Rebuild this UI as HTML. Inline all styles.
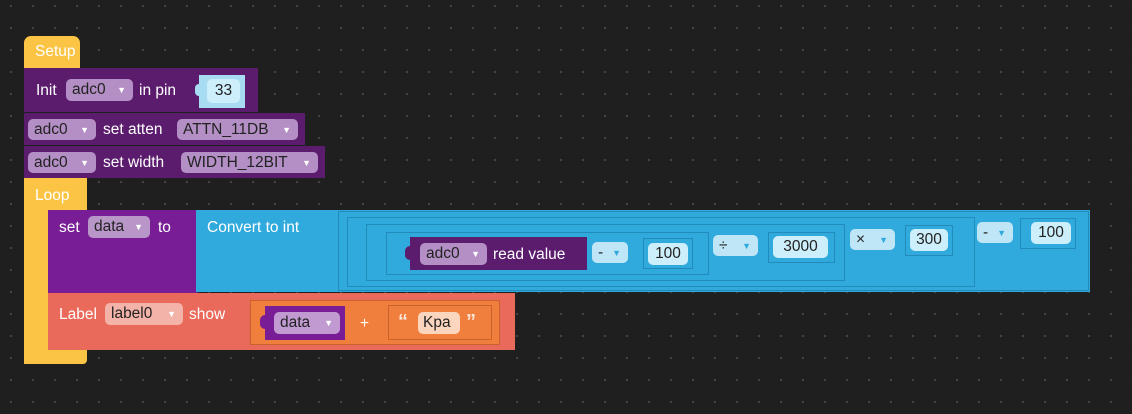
<!DOCTYPE html>
<html><head><meta charset="utf-8"><style>
html,body{margin:0;padding:0}
body{width:1132px;height:414px;overflow:hidden;background-color:#1f1f1f;
background-image:radial-gradient(circle,#474747 0.9px,transparent 1.3px);background-size:22px 22px;background-position:0px -5px;
font-family:"Liberation Sans",sans-serif;font-size:15.5px;position:relative}
.a{position:absolute;box-sizing:border-box}
.t{position:absolute;color:#fff;white-space:nowrap;line-height:18px}
.dd{position:absolute;box-sizing:border-box;border-radius:5px;color:#222;white-space:nowrap;display:flex;align-items:center;padding-left:6px}
.dd i{font-style:normal;font-size:9px;color:#fff;position:absolute;right:7px;top:50%;transform:translateY(-50%)}
.num{position:absolute;box-sizing:border-box;background:#cdeefb;border-radius:5px;color:#222;display:flex;align-items:center;justify-content:center}
</style></head><body>
<!-- Setup -->
<div class="a" style="left:24px;top:36px;width:56px;height:34px;background:#fbc444;border-radius:7px 7px 0 0"></div>
<div class="t" style="left:35px;top:43px">Setup</div>
<div class="a" style="left:24px;top:68px;width:234px;height:44px;background:#5b1c6d"></div>
<div class="t" style="left:36px;top:82px">Init</div>
<div class="dd" style="left:66px;top:79px;width:67px;height:22px;background:#b38fc5">adc0<i>▼</i></div>
<div class="t" style="left:139px;top:82px">in pin</div>
<div class="a" style="left:199px;top:75px;width:46px;height:33px;background:#a8dcf3"></div>
<div class="a" style="left:195px;top:84px;width:8px;height:12px;background:#a8dcf3;border-radius:4px"></div>
<div class="num" style="left:207px;top:79px;width:33px;height:24px">33</div>
<div class="a" style="left:24px;top:113px;width:281px;height:32px;background:#5b1c6d"></div>
<div class="dd" style="left:28px;top:119px;width:68px;height:21px;background:#b38fc5">adc0<i>▼</i></div>
<div class="t" style="left:103px;top:121px">set atten</div>
<div class="dd" style="left:177px;top:119px;width:121px;height:21px;background:#b38fc5">ATTN_11DB<i>▼</i></div>
<div class="a" style="left:24px;top:146px;width:301px;height:32px;background:#5b1c6d"></div>
<div class="dd" style="left:28px;top:152px;width:68px;height:21px;background:#b38fc5">adc0<i>▼</i></div>
<div class="t" style="left:103px;top:154px">set width</div>
<div class="dd" style="left:181px;top:152px;width:137px;height:21px;background:#b38fc5">WIDTH_12BIT<i>▼</i></div>
<!-- Loop -->
<div class="a" style="left:24px;top:178px;width:63px;height:34px;background:#fbc444"></div>
<div class="a" style="left:24px;top:178px;width:24px;height:186px;background:#fbc444"></div>
<div class="a" style="left:24px;top:348px;width:63px;height:16px;background:#fbc444;border-radius:0 0 4px 4px"></div>
<div class="t" style="left:35px;top:187px">Loop</div>
<!-- set -->
<div class="a" style="left:48px;top:210px;width:150px;height:83px;background:#781d95"></div>
<div class="t" style="left:59px;top:219px">set</div>
<div class="dd" style="left:88px;top:216px;width:62px;height:22px;background:#b996c8">data<i>▼</i></div>
<div class="t" style="left:158px;top:219px">to</div>
<div class="a" style="left:196px;top:210px;width:894px;height:82px;background:#30a9dd"></div>
<div class="t" style="left:207px;top:219px">Convert to int</div>
<div class="a" style="left:338px;top:211px;width:751px;height:80px;border:1px solid #238bbb"></div>
<div class="a" style="left:347px;top:217px;width:628px;height:70px;border:1px solid #238bbb"></div>
<div class="a" style="left:366px;top:224px;width:479px;height:57px;border:1px solid #238bbb"></div>
<div class="a" style="left:386px;top:232px;width:323px;height:43px;border:1px solid #238bbb"></div>
<div class="a" style="left:410px;top:237px;width:177px;height:33px;background:#5b1c6d"></div>
<div class="a" style="left:405px;top:246px;width:10px;height:14px;background:#5b1c6d;border-radius:5px"></div>
<div class="dd" style="left:420px;top:243px;width:67px;height:22px;background:#b38fc5">adc0<i>▼</i></div>
<div class="t" style="left:493px;top:246px">read value</div>
<div class="dd" style="left:592px;top:242px;width:36px;height:21px;background:#bfe6f7">-<i style="color:#30a9dd">▼</i></div>
<div class="a" style="left:643px;top:238px;width:50px;height:31px;border:1px solid #238bbb"></div>
<div class="num" style="left:648px;top:243px;width:40px;height:22px">100</div>
<div class="dd" style="left:713px;top:235px;width:45px;height:21px;background:#bfe6f7">÷<i style="color:#30a9dd">▼</i></div>
<div class="a" style="left:768px;top:232px;width:67px;height:31px;border:1px solid #238bbb"></div>
<div class="num" style="left:773px;top:236px;width:55px;height:22px">3000</div>
<div class="dd" style="left:850px;top:229px;width:45px;height:21px;background:#bfe6f7">×<i style="color:#30a9dd">▼</i></div>
<div class="a" style="left:905px;top:225px;width:48px;height:31px;border:1px solid #238bbb"></div>
<div class="num" style="left:910px;top:229px;width:38px;height:22px">300</div>
<div class="dd" style="left:977px;top:222px;width:36px;height:21px;background:#bfe6f7">-<i style="color:#30a9dd">▼</i></div>
<div class="a" style="left:1020px;top:218px;width:56px;height:31px;border:1px solid #238bbb"></div>
<div class="num" style="left:1031px;top:222px;width:40px;height:22px">100</div>
<!-- Label -->
<div class="a" style="left:48px;top:293px;width:467px;height:57px;background:#e9695a"></div>
<div class="t" style="left:59px;top:306px">Label</div>
<div class="dd" style="left:105px;top:303px;width:78px;height:22px;background:#f4b3a9">label0<i>▼</i></div>
<div class="t" style="left:189px;top:306px">show</div>
<div class="a" style="left:250px;top:300px;width:250px;height:45px;background:#f07e3c;border:1px solid #c9622a"></div>
<div class="a" style="left:265px;top:306px;width:80px;height:34px;background:#781d95"></div>
<div class="a" style="left:260px;top:315px;width:10px;height:14px;background:#781d95;border-radius:5px"></div>
<div class="dd" style="left:274px;top:312px;width:66px;height:22px;background:#c09ad1">data<i>▼</i></div>
<div class="t" style="left:360px;top:315px">+</div>
<div class="a" style="left:388px;top:305px;width:104px;height:35px;border:1px solid #c9622a"></div>
<div class="t" style="left:398px;top:313px;font-weight:bold;font-size:20px;color:#fde6d6">“</div>
<div class="dd" style="left:418px;top:312px;width:42px;height:22px;background:#fbd5bd;padding-left:5px">Kpa</div>
<div class="t" style="left:466px;top:313px;font-weight:bold;font-size:20px;color:#fde6d6">”</div>
</body></html>
